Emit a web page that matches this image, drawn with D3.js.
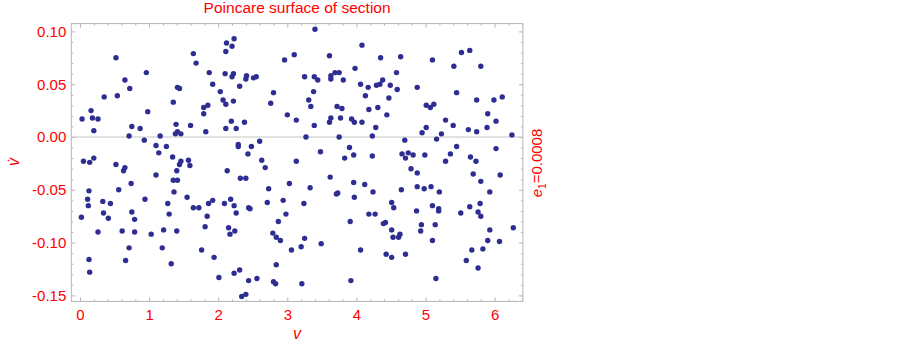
<!DOCTYPE html>
<html>
<head>
<meta charset="utf-8">
<script src="https://cdn.jsdelivr.net/npm/d3@7"></script>
<style>
  body { margin: 0; background: #fff; }
  text { font-family: "Liberation Sans", Arial, sans-serif; }
</style>
</head>
<body>
<div id="chart"></div>
<script>
// Poincare section points [v, dv/dt]
const sectionPoints = [
  [0.52,0.075],[1.64,0.079],[1.68,0.070],[1.87,0.061],[1.92,0.050],[2.03,0.043],[0.96,0.061],[0.65,0.054],
  [0.72,0.046],[0.54,0.039],[0.35,0.038],[1.41,0.047],[1.44,0.046],[0.16,0.025],[0.03,0.017],[0.18,0.018],
  [0.26,0.017],[0.20,0.006],[0.98,0.024],[1.35,0.033],[1.79,0.028],[1.85,0.030],[1.79,0.022],[1.39,0.012],
  [1.60,0.011],[1.82,0.005],[0.75,0.010],[0.87,0.008],[0.71,0.001],[1.41,0.005],[1.38,0.003],[1.46,0.003],
  [1.16,0.001],[0.93,-0.003],[1.10,-0.008],[1.25,-0.009],[1.14,-0.015],[1.34,-0.019],[0.05,-0.023],[0.14,-0.024],
  [0.20,-0.020],[0.52,-0.026],[1.46,-0.023],[1.44,-0.026],[1.57,-0.022],[1.59,-0.027],
  [0.65,-0.029],[0.63,-0.032],[1.40,-0.032],[1.10,-0.036],[1.35,-0.041],[1.41,-0.041],[0.74,-0.044],[0.13,-0.051],
  [0.56,-0.050],[1.36,-0.052],[1.55,-0.057],[0.11,-0.059],[0.33,-0.061],[0.44,-0.063],[0.94,-0.059],[1.27,-0.063],
  [1.92,-0.060],[1.86,-0.063],[1.64,-0.067],[1.72,-0.067],[0.12,-0.065],[0.34,-0.072],[0.75,-0.071],[1.29,-0.073],
  [0.02,-0.076],[0.41,-0.077],[0.79,-0.078],[1.84,-0.075],[1.81,-0.085],[0.26,-0.090],[0.61,-0.089],[0.79,-0.090],
  [1.03,-0.092],[1.21,-0.088],[1.40,-0.089],[0.71,-0.105],[1.19,-0.105],[1.76,-0.107],[1.94,-0.114],[0.13,-0.116],
  [0.66,-0.117],[1.32,-0.120],[0.14,-0.128],[2.01,-0.133],
  [3.40,0.102],[2.23,0.093],[2.12,0.089],[2.20,0.086],[2.11,0.081],[4.08,0.087],[2.96,0.073],[3.10,0.078],
  [3.61,0.077],[2.10,0.060],[2.22,0.060],[2.20,0.057],[2.41,0.058],[2.40,0.055],[2.51,0.056],[2.55,0.057],
  [2.31,0.048],[2.07,0.035],[2.11,0.031],[2.22,0.034],[2.80,0.042],[2.76,0.032],[3.25,0.057],[3.39,0.057],
  [3.44,0.054],[3.38,0.043],[3.31,0.035],[3.34,0.029],[3.63,0.058],[3.63,0.055],[3.69,0.061],[3.75,0.061],
  [3.81,0.054],[3.98,0.065],[4.06,0.050],[4.17,0.047],[4.13,0.039],[4.18,0.026],[3.72,0.029],[3.79,0.027],
  [3.63,0.018],[3.61,0.014],[3.77,0.018],[3.93,0.017],[3.97,0.014],[4.08,0.014],[2.19,0.015],[2.11,0.008],
  [2.26,0.008],[2.38,0.014],[3.00,0.021],[3.13,0.016],[3.39,0.011],[3.27,0.000],[3.75,0.000],[2.29,-0.007],
  [2.29,-0.009],[2.48,-0.009],[2.60,-0.004],[2.43,-0.016],[2.63,-0.022],[3.13,-0.023],[3.48,-0.014],[3.90,-0.010],
  [3.83,-0.020],[3.96,-0.017],[4.23,-0.018],
  [2.13,-0.032],[2.68,-0.029],[2.32,-0.039],[2.40,-0.039],[3.62,-0.038],[3.03,-0.044],[3.96,-0.043],[4.12,-0.045],
  [2.73,-0.049],[3.33,-0.048],[3.71,-0.054],[3.73,-0.053],[3.97,-0.057],[2.09,-0.063],[2.18,-0.059],[2.23,-0.065],
  [2.44,-0.067],[2.46,-0.068],[2.71,-0.062],[2.94,-0.060],[3.24,-0.063],[2.26,-0.072],[2.98,-0.073],[4.18,-0.073],
  [2.87,-0.080],[3.91,-0.080],[2.15,-0.086],[2.24,-0.089],[2.17,-0.092],[2.79,-0.091],[2.84,-0.095],[2.90,-0.098],
  [3.25,-0.096],[3.49,-0.101],[3.20,-0.104],[3.06,-0.107],[4.06,-0.107],[2.84,-0.121],[2.23,-0.129],[2.31,-0.126],
  [2.44,-0.136],[2.56,-0.134],[2.80,-0.137],[2.83,-0.139],[3.21,-0.139],[3.92,-0.136],[2.34,-0.151],[2.40,-0.149],
  [5.64,0.082],[5.52,0.080],[4.35,0.075],[4.64,0.076],[5.10,0.073],[5.41,0.067],[5.80,0.067],[4.58,0.061],
  [4.38,0.054],[4.34,0.050],[4.29,0.049],[4.49,0.049],[4.59,0.045],[4.88,0.047],[4.47,0.037],[5.45,0.042],
  [5.74,0.035],[5.99,0.035],[6.11,0.038],[4.31,0.028],[4.44,0.021],[5.01,0.030],[5.07,0.028],[5.12,0.031],
  [5.29,0.016],[5.40,0.011],[5.90,0.022],[6.02,0.015],[4.28,0.009],[4.23,0.001],[5.01,0.009],[4.95,0.004],
  [5.23,0.003],[5.16,-0.002],[4.70,-0.003],[5.62,0.007],[5.74,0.005],[5.89,0.009],[6.25,0.002],[5.45,-0.009],
  [6.02,-0.011],[4.66,-0.016],[4.71,-0.020],[4.75,-0.015],[4.82,-0.017],[4.99,-0.017],[5.36,-0.016],[5.29,-0.023],
  [5.65,-0.019],[5.73,-0.023],
  [4.79,-0.030],[4.88,-0.034],[5.69,-0.035],[6.08,-0.036],[5.80,-0.042],[4.24,-0.052],[4.65,-0.050],[4.88,-0.047],
  [4.98,-0.049],[5.08,-0.047],[5.20,-0.052],[5.93,-0.052],[4.51,-0.062],[4.54,-0.067],[4.27,-0.073],[4.87,-0.070],
  [5.10,-0.065],[5.19,-0.068],[5.19,-0.070],[5.51,-0.072],[5.64,-0.066],[5.79,-0.063],[5.76,-0.071],[5.80,-0.075],
  [4.39,-0.082],[4.42,-0.081],[4.94,-0.083],[5.14,-0.083],[4.51,-0.088],[4.93,-0.089],[4.53,-0.095],[4.61,-0.095],
  [4.63,-0.092],[5.10,-0.098],[5.93,-0.088],[6.27,-0.086],[5.90,-0.098],[6.07,-0.099],[5.67,-0.107],[5.83,-0.106],
  [4.43,-0.111],[4.51,-0.114],[4.71,-0.111],[5.59,-0.117],[5.76,-0.124],[5.15,-0.134]
];

const xTicks = [0, 1, 2, 3, 4, 5, 6];
const xTickLabels = ["0", "1", "2", "3", "4", "5", "6"];
const yTicks = [-0.15, -0.10, -0.05, 0.00, 0.05, 0.10];
const yTickLabels = ["-0.15", "-0.10", "-0.05", "0.00", "0.05", "0.10"];
const xDomain = [-0.126, 6.409];
const yDomain = [-0.1557, 0.1074];

const chartTitle = "Poincare surface of section";
const paramLabel = "0.0008";

const W = 903, H = 342;
const plotL = 71.3, plotR = 522.9, plotT = 23.6, plotB = 301.4;
const red = "#ff0000", frameCol = "#b4b4b4";

const svg = d3.select('#chart')
  .append('svg')
  .attr('width', W)
  .attr('height', H);

const x = d3.scaleLinear().domain(xDomain).range([plotL, plotR]);
const y = d3.scaleLinear().domain(yDomain).range([plotB, plotT]);

// minor ticks (every 0.2 in x, 0.01 in y)
const xMinor = d3.range(0, 6.41, 0.2).filter(d => Math.abs(d - Math.round(d)) > 1e-6);
const yMinor = d3.range(-0.15, 0.1051, 0.01).filter(d => Math.abs(d / 0.05 - Math.round(d / 0.05)) > 1e-6);

function styleAxis(g) {
  g.select('.domain').remove();
  g.selectAll('.tick line').attr('stroke', frameCol);
  g.selectAll('.tick text')
    .attr('fill', red)
    .attr('font-size', 15)
    .attr('font-family', '"Liberation Sans", Arial, sans-serif');
}

// bottom axis with labels
svg.append('g')
  .attr('transform', `translate(0,${plotB})`)
  .call(d3.axisBottom(x).tickValues(xTicks).tickSize(-4).tickPadding(8)
    .tickFormat((d, i) => xTickLabels[i]))
  .call(styleAxis);
svg.append('g')
  .attr('transform', `translate(0,${plotB})`)
  .call(d3.axisBottom(x).tickValues(xMinor).tickSize(-2).tickFormat(''))
  .call(styleAxis);
// top mirror
svg.append('g')
  .attr('transform', `translate(0,${plotT})`)
  .call(d3.axisTop(x).tickValues(xTicks).tickSize(-4).tickFormat(''))
  .call(styleAxis);
svg.append('g')
  .attr('transform', `translate(0,${plotT})`)
  .call(d3.axisTop(x).tickValues(xMinor).tickSize(-2).tickFormat(''))
  .call(styleAxis);

// left axis with labels
svg.append('g')
  .attr('transform', `translate(${plotL},0)`)
  .call(d3.axisLeft(y).tickValues(yTicks).tickSize(-4).tickPadding(5)
    .tickFormat((d, i) => yTickLabels[i]))
  .call(styleAxis);
svg.append('g')
  .attr('transform', `translate(${plotL},0)`)
  .call(d3.axisLeft(y).tickValues(yMinor).tickSize(-2).tickFormat(''))
  .call(styleAxis);
// right mirror
svg.append('g')
  .attr('transform', `translate(${plotR},0)`)
  .call(d3.axisRight(y).tickValues(yTicks).tickSize(-4).tickFormat(''))
  .call(styleAxis);
svg.append('g')
  .attr('transform', `translate(${plotR},0)`)
  .call(d3.axisRight(y).tickValues(yMinor).tickSize(-2).tickFormat(''))
  .call(styleAxis);

// frame
svg.append('rect')
  .attr('x', plotL).attr('y', plotT)
  .attr('width', plotR - plotL).attr('height', plotB - plotT)
  .attr('fill', 'none')
  .attr('stroke', frameCol)
  .attr('stroke-width', 1);

// zero axis line
svg.append('line')
  .attr('x1', plotL).attr('x2', plotR)
  .attr('y1', y(0)).attr('y2', y(0))
  .attr('stroke', '#c4c4c4')
  .attr('stroke-width', 1);

// points
svg.append('g')
  .selectAll('circle')
  .data(sectionPoints)
  .enter().append('circle')
  .attr('cx', d => x(d[0]))
  .attr('cy', d => y(d[1]))
  .attr('r', 2.7)
  .attr('fill', '#2e2e92');

// title
svg.append('text')
  .attr('x', (plotL + plotR) / 2)
  .attr('y', 13)
  .attr('text-anchor', 'middle')
  .attr('fill', red)
  .attr('font-size', 15.5)
  .text(chartTitle);

// x label
svg.append('text')
  .attr('x', (plotL + plotR) / 2)
  .attr('y', 339)
  .attr('text-anchor', 'middle')
  .attr('fill', red)
  .attr('font-size', 16)
  .attr('font-style', 'italic')
  .text('v');

// y label (v with dot above)
svg.append('text')
  .attr('transform', 'translate(19,162) rotate(-90)')
  .attr('text-anchor', 'middle')
  .attr('fill', red)
  .attr('font-size', 16)
  .attr('font-style', 'italic')
  .text('v\u0307');

// right label e1=0.0008
const rl = svg.append('text')
  .attr('transform', 'translate(542,163) rotate(-90)')
  .attr('text-anchor', 'middle')
  .attr('fill', red)
  .attr('font-size', 15);
rl.append('tspan').attr('font-style', 'italic').text('e');
rl.append('tspan').attr('font-size', 10).attr('dy', 4).text('1');
rl.append('tspan').attr('dy', -4).text('=' + paramLabel);
</script>
</body>
</html>
